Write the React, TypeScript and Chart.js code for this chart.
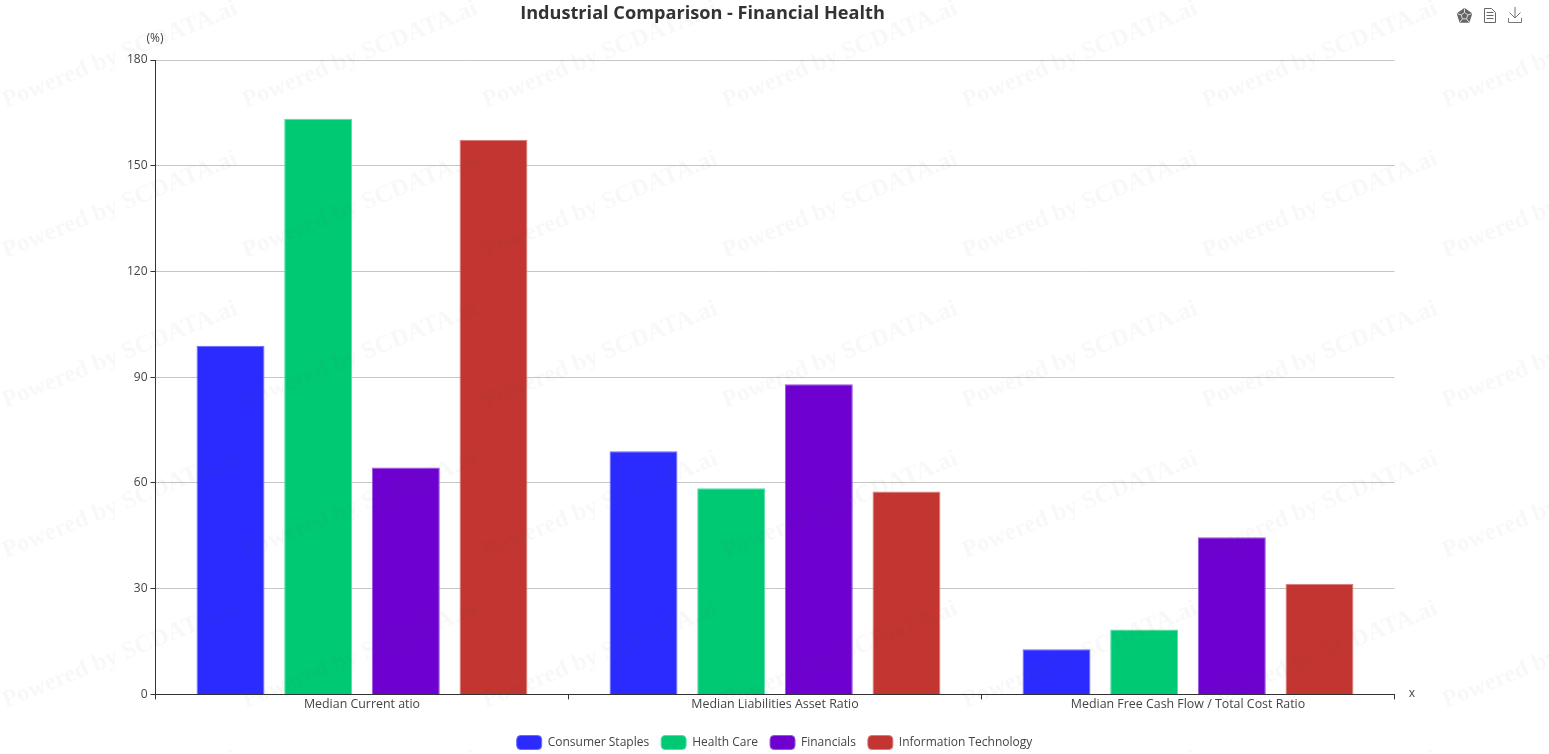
import React, { useEffect, useRef } from "react";
import { Chart, registerables } from "chart.js";

Chart.register(...registerables);

const categories = ["Median Current atio", "Median Liabilities Asset Ratio", "Median Free Cash Flow / Total Cost Ratio"];
const consumerStaples = [98.9, 69.0, 12.8];
const healthCare = [163.3, 58.5, 18.4];
const financials = [64.4, 88.0, 44.6];
const informationTechnology = [157.4, 57.6, 31.4];
const seriesNames = ["Consumer Staples", "Health Care", "Financials", "Information Technology"];
const seriesColors = ["#2b2bff", "#00c974", "#6e00d0", "#c23531"];
const seriesEdges = ["#6a6aff", "#55dda6", "#9a55e0", "#d97c79"];
const titleText = "Industrial Comparison - Financial Health";
const watermarkText = "Powered by SCDATA.ai";
const FONT = '"Open Sans", "Noto Sans", sans-serif';

const pentagon = (c: any, cx: number, cy: number, r: number) => {
  c.beginPath();
  for (let i = 0; i < 5; i++) {
    const a = -Math.PI / 2 + (i * 2 * Math.PI) / 5;
    c.lineTo(cx + r * Math.cos(a), cy + r * Math.sin(a));
  }
  c.closePath();
};

const decor = {
  id: "decor",
  afterLayout(chart: any) {
    const l = chart.legend;
    l.left = 0;
    l.right = 1549;
    l.top += 5.5;
    l.bottom += 5.5;
  },
  afterDraw(chart: any) {
    const c = chart.ctx;
    c.save();
    c.fillStyle = "#333";
    c.font = `bold 18.15px ${FONT}`;
    c.textAlign = "center";
    c.textBaseline = "middle";
    c.fillText(titleText, 702.5, 13.5);
    c.font = `12px ${FONT}`;
    c.fillStyle = "#444";
    c.fillText("(%)", 155, 39);
    c.fillText("x", 1412, 694);

    c.strokeStyle = "#666";
    c.fillStyle = "#666";
    c.lineWidth = 1;
    // pentagon icon
    c.lineJoin = "round";
    c.lineWidth = 2;
    pentagon(c, 1464.5, 16, 7);
    c.fill();
    c.stroke();
    c.lineWidth = 1;
    c.strokeStyle = "#ddd";
    pentagon(c, 1464.5, 16, 3.5);
    c.stroke();
    for (let i = 0; i < 5; i++) {
      const a = -Math.PI / 2 + (i * 2 * Math.PI) / 5;
      c.beginPath();
      c.moveTo(1464.5 + 3.5 * Math.cos(a), 16 + 3.5 * Math.sin(a));
      c.lineTo(1464.5 + 7.5 * Math.cos(a), 16 + 7.5 * Math.sin(a));
      c.stroke();
    }
    c.strokeStyle = "#666";
    // document icon
    c.beginPath();
    c.moveTo(1484.5, 8.5);
    c.lineTo(1491.5, 8.5);
    c.lineTo(1495.5, 12.5);
    c.lineTo(1495.5, 22.5);
    c.lineTo(1484.5, 22.5);
    c.closePath();
    c.moveTo(1486.5, 12.5); c.lineTo(1493.5, 12.5);
    c.moveTo(1486.5, 15.5); c.lineTo(1493.5, 15.5);
    c.moveTo(1486.5, 18.5); c.lineTo(1493.5, 18.5);
    c.stroke();
    // download icon
    c.strokeStyle = "#777";
    c.beginPath();
    c.moveTo(1515, 7); c.lineTo(1515, 18);
    c.moveTo(1509.5, 12.5); c.lineTo(1515, 18); c.lineTo(1520.5, 12.5);
    c.moveTo(1508.5, 18); c.lineTo(1508.5, 22.5); c.lineTo(1521.5, 22.5); c.lineTo(1521.5, 18);
    c.stroke();

    // watermark lies over the marks
    c.fillStyle = "rgba(90,90,90,0.042)";
    c.font = 'bold 24.5px "Liberation Serif", serif';
    for (let row = -1; row < 6; row++) {
      for (let col = 0; col < 8; col++) {
        c.save();
        c.translate(120 + col * 240, 55 + row * 150);
        c.rotate((-22 * Math.PI) / 180);
        c.fillText(watermarkText, 0, 0);
        c.restore();
      }
    }
    c.restore();
  },
};

export default function App() {
  const ref = useRef<HTMLCanvasElement>(null);
  useEffect(() => {
    const chart = new Chart(ref.current!, {
      type: "bar",
      data: {
        labels: categories,
        datasets: [consumerStaples, healthCare, financials, informationTechnology].map((data, i) => ({
          label: seriesNames[i],
          data,
          backgroundColor: seriesColors[i],
          borderColor: seriesEdges[i],
          borderWidth: 1,
          borderSkipped: "bottom",
          categoryPercentage: 0.849,
          barPercentage: 0.775,
        })),
      },
      options: {
        responsive: false,
        animation: false,
        layout: { padding: { top: 60, left: 0, right: 154.5, bottom: 0 } },
        plugins: {
          title: { display: false },
          tooltip: { enabled: false },
          legend: {
            position: "bottom",
            labels: {
              boxWidth: 25,
              boxHeight: 14,
              useBorderRadius: true,
              borderRadius: 4,
              padding: 12,
              color: "#444",
              font: { size: 12, family: FONT },
            },
          },
        },
        scales: {
          x: {
            afterFit(s: any) { s.height = 23.6; },
            grid: { display: true, offset: true, drawOnChartArea: false, drawTicks: true, tickLength: 5, tickColor: "#333" },
            border: { color: "#333" },
            ticks: { color: "#444", font: { size: 12.4, family: FONT }, padding: -2, maxRotation: 0 },
          },
          y: {
            min: 0,
            max: 180,
            afterFit(s: any) { s.width = 155.5; },
            grid: { color: "#c6c6c6", tickColor: "#333", tickLength: 5 },
            border: { color: "#333" },
            ticks: { stepSize: 30, color: "#444", font: { size: 12, family: FONT }, padding: 3 },
          },
        },
      },
      plugins: [decor],
    } as any);
    return () => chart.destroy();
  }, []);
  return (
    <div style={{ position: "fixed", left: 0, top: 0, width: 1549, height: 754, background: "#fff" }}>
      <canvas ref={ref} width={1549} height={754} style={{ display: "block" }} />
    </div>
  );
}
